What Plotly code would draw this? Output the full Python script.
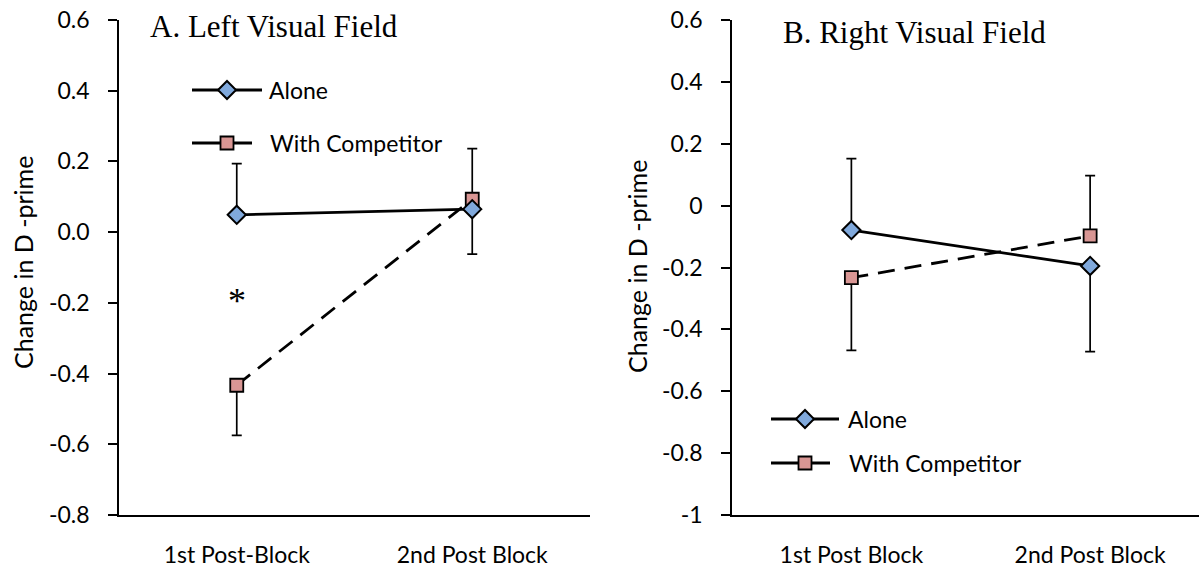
import plotly.graph_objects as go

# ---- data ---------------------------------------------------------------
categories_left = ["1st Post-Block", "2nd Post Block"]
categories_right = ["1st Post Block", "2nd Post Block"]

# Left visual field: change in d-prime
lvf_alone = [0.049, 0.065]
lvf_alone_err_up = [0.145, 0.0]
lvf_alone_err_down = [0.0, 0.127]
lvf_comp = [-0.433, 0.093]
lvf_comp_err_up = [0.0, 0.143]
lvf_comp_err_down = [0.142, 0.0]

# Right visual field: change in d-prime
rvf_alone = [-0.079, -0.195]
rvf_alone_err_up = [0.231, 0.0]
rvf_alone_err_down = [0.0, 0.277]
rvf_comp = [-0.233, -0.098]
rvf_comp_err_up = [0.0, 0.195]
rvf_comp_err_down = [0.235, 0.0]

left_ticks = [0.6, 0.4, 0.2, 0.0, -0.2, -0.4, -0.6, -0.8]
left_ticktext = ["0.6", "0.4", "0.2", "0.0", "-0.2", "-0.4", "-0.6", "-0.8"]
right_ticks = [0.6, 0.4, 0.2, 0.0, -0.2, -0.4, -0.6, -0.8, -1.0]
right_ticktext = ["0.6", "0.4", "0.2", "0", "-0.2", "-0.4", "-0.6", "-0.8", "-1"]

series_names = ["Alone", "With Competitor"]

# ---- styling ------------------------------------------------------------
W, H = 1199, 571
BLUE = "#80A9DC"
PINK = "#D99694"
SANS = "Lato, 'Open Sans', sans-serif"
SERIF = "'Liberation Serif', 'DejaVu Serif', serif"
DASH = "17px,10px"


def px_x(p):
    return p / W


def px_y(p):
    return 1 - p / H


fig = go.Figure()


def add_panel(xa, ya, alone, a_up, a_down, comp, c_up, c_down):
    xs = [0, 1]
    for vals, up, down in ((alone, a_up, a_down), (comp, c_up, c_down)):
        fig.add_trace(go.Scatter(
            x=xs, y=vals, xaxis=xa, yaxis=ya, mode="markers",
            marker=dict(size=1, opacity=0), showlegend=False, hoverinfo="skip",
            error_y=dict(type="data", symmetric=False, array=up, arrayminus=down,
                         color="black", thickness=1.7, width=5),
        ))
    fig.add_trace(go.Scatter(
        x=xs, y=comp, xaxis=xa, yaxis=ya, mode="lines+markers",
        name=series_names[1], showlegend=False,
        line=dict(color="black", width=2.8, dash=DASH),
        marker=dict(symbol="square", size=13, color=PINK,
                    line=dict(color="black", width=1.8)),
    ))
    fig.add_trace(go.Scatter(
        x=xs, y=alone, xaxis=xa, yaxis=ya, mode="lines+markers",
        name=series_names[0], showlegend=False,
        line=dict(color="black", width=2.8),
        marker=dict(symbol="diamond", size=14, color=BLUE,
                    line=dict(color="black", width=2)),
    ))


add_panel("x", "y", lvf_alone, lvf_alone_err_up, lvf_alone_err_down,
          lvf_comp, lvf_comp_err_up, lvf_comp_err_down)
add_panel("x2", "y2", rvf_alone, rvf_alone_err_up, rvf_alone_err_down,
          rvf_comp, rvf_comp_err_up, rvf_comp_err_down)

ydom = [px_y(515), px_y(20)]
xaxis_common = dict(showgrid=False, zeroline=False, showline=True, linecolor="black",
                    linewidth=2.2, ticks="", tickvals=[0, 1], automargin=False,
                    tickfont=dict(family=SANS, size=23, color="black"),
                    ticklabelstandoff=18, fixedrange=True)
yaxis_common = dict(showgrid=False, zeroline=False, showline=True, linecolor="black",
                    linewidth=1.7, ticks="outside", ticklen=9, tickwidth=1.7,
                    tickcolor="black", tickfont=dict(family=SANS, size=23, color="black"),
                    ticklabelstandoff=14, fixedrange=True, automargin=False)

fig.update_layout(
    width=W, height=H,
    margin=dict(l=0, r=0, t=0, b=0),
    paper_bgcolor="white", plot_bgcolor="white",
    showlegend=False,
    xaxis=dict(domain=[px_x(119), px_x(590)], range=[-0.5, 1.5], anchor="y",
               ticktext=categories_left, **xaxis_common),
    yaxis=dict(domain=ydom, range=[-0.8, 0.6], anchor="x",
               tickvals=left_ticks, ticktext=left_ticktext, **yaxis_common),
    xaxis2=dict(domain=[px_x(732), 1.0], range=[-0.5, 1.456], anchor="y2",
                ticktext=categories_right, **xaxis_common),
    yaxis2=dict(domain=ydom, range=[-1.0, 0.6], anchor="x2",
                tickvals=right_ticks, ticktext=right_ticktext, **yaxis_common),
)

annotations = [
    # panel titles
    dict(text="A. Left Visual Field", x=px_x(274), y=px_y(27), xref="paper", yref="paper",
         showarrow=False, xanchor="center", yanchor="middle",
         font=dict(family=SERIF, size=31, color="black")),
    dict(text="B. Right Visual Field", x=px_x(914), y=px_y(33), xref="paper", yref="paper",
         showarrow=False, xanchor="center", yanchor="middle",
         font=dict(family=SERIF, size=31, color="black")),
    # y axis titles
    dict(text="Change in D -prime", x=px_x(23), y=px_y(263), xref="paper", yref="paper",
         showarrow=False, textangle=-90, xanchor="center", yanchor="middle",
         font=dict(family=SANS, size=25, color="black")),
    dict(text="Change in D -prime", x=px_x(637), y=px_y(267), xref="paper", yref="paper",
         showarrow=False, textangle=-90, xanchor="center", yanchor="middle",
         font=dict(family=SANS, size=25, color="black")),
    # significance marker
    dict(text="*", x=0, y=-0.195, xref="x", yref="y", showarrow=False,
         xanchor="center", yanchor="middle",
         font=dict(family=SERIF, size=36, color="black")),
]

# hand-placed legend boxes inside each panel
shapes = []


def legend_block(x0, x1, x1b, xm, y_a, y_c, xt):
    # Alone: line + diamond
    shapes.append(dict(type="line", xref="paper", yref="paper",
                       x0=px_x(x0), x1=px_x(x1), y0=px_y(y_a), y1=px_y(y_a),
                       line=dict(color="black", width=2.8)))
    d = 9
    shapes.append(dict(type="path", xref="paper", yref="paper",
                       path=(f"M {px_x(xm - d)},{px_y(y_a)} L {px_x(xm)},{px_y(y_a - d)} "
                             f"L {px_x(xm + d)},{px_y(y_a)} L {px_x(xm)},{px_y(y_a + d)} Z"),
                       fillcolor=BLUE, line=dict(color="black", width=2)))
    annotations.append(dict(text=series_names[0], x=px_x(xt), y=px_y(y_a), xref="paper",
                            yref="paper", showarrow=False, xanchor="left", yanchor="middle",
                            font=dict(family=SANS, size=23, color="black")))
    # With Competitor: line + square
    shapes.append(dict(type="line", xref="paper", yref="paper",
                       x0=px_x(x0), x1=px_x(x1b), y0=px_y(y_c), y1=px_y(y_c),
                       line=dict(color="black", width=2.8)))
    s = 6.5
    shapes.append(dict(type="rect", xref="paper", yref="paper",
                       x0=px_x(xm - s), x1=px_x(xm + s), y0=px_y(y_c + s), y1=px_y(y_c - s),
                       fillcolor=PINK, line=dict(color="black", width=1.8)))
    annotations.append(dict(text=series_names[1], x=px_x(xt + 1), y=px_y(y_c), xref="paper",
                            yref="paper", showarrow=False, xanchor="left", yanchor="middle",
                            font=dict(family=SANS, size=23, color="black")))


legend_block(192, 262, 252, 227, 90, 143, 267)
legend_block(771, 839, 830, 805, 419, 463, 846)

fig.update_layout(annotations=annotations, shapes=shapes)

fig.write_html("out.html")
